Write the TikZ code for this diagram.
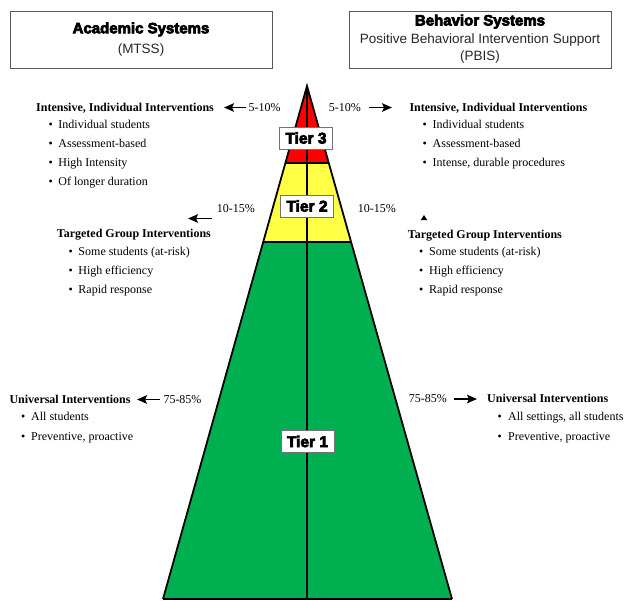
\documentclass[tikz,border=0pt]{standalone}
\usepackage{fontspec}
\setmainfont{Liberation Serif}
\newfontfamily\hsans{Liberation Sans}
\newfontfamily\heavy{Liberation Sans Bold}
\newcommand\hvytext[1]{\special{pdf:literal direct q 2 Tr 0.7 w 0 G}#1\special{pdf:literal direct Q}}
\usetikzlibrary{arrows.meta,calc}
\definecolor{tred}{RGB}{255,0,0}
\definecolor{tyellow}{RGB}{255,255,70}
\definecolor{tgreen}{RGB}{0,176,80}
\begin{document}
\begin{tikzpicture}[x=1pt,y=-1pt,
  txt/.style={inner sep=0pt, anchor=base west, font=\fontsize{12}{14}\selectfont},
  ttl/.style={inner sep=0pt, anchor=base west, font=\fontsize{12}{14}\selectfont\bfseries},
  arr/.style={line width=1.8pt, -{Stealth[length=10pt,width=8.5pt,inset=2pt]}},
  tierbox/.style={draw=black!55, fill=white, line width=0.7pt, minimum width=53pt, minimum height=22pt, inner sep=0pt, font=\heavy\fontsize{15.5}{15.5}\selectfont},
  sysbox/.style={draw=black!65, line width=0.9pt, minimum width=262pt, minimum height=57pt, inner sep=0pt},
  systitle/.style={inner sep=0pt, anchor=base, font=\heavy\fontsize{15}{15}\selectfont},
  syssub/.style={inner sep=0pt, anchor=base, font=\hsans\fontsize{13.5}{15}\selectfont, text=black!85}
]
\useasboundingbox (0,0) rectangle (624,600);

% header boxes
\node[sysbox] (acad) at (141,39.5) {};
\node[systitle] (acadt) at (141,33.3) {\hvytext{Academic Systems}};
\node[syssub] (acads) at (141,53.5) {(MTSS)};
\node[sysbox] (behav) at (480,39.5) {};
\node[systitle] (behavt) at (480,25.5) {\hvytext{Behavior Systems}};
\node[syssub] (behavs) at (480,43) {Positive Behavioral Intervention Support};
\node[syssub] (behavp) at (480,60) {(PBIS)};

% pyramid
\coordinate (apex) at (307,86);
\coordinate (bl) at (163,599);
\coordinate (br) at (452,599);
\coordinate (bc) at (307,599);
\coordinate (l1) at ($(apex)!0.1502!(bl)$);
\coordinate (r1) at ($(apex)!0.1502!(br)$);
\coordinate (l2) at ($(apex)!0.3043!(bl)$);
\coordinate (r2) at ($(apex)!0.3043!(br)$);
\fill[tred] (apex) -- (l1) -- (r1) -- cycle;
\fill[tyellow] (l1) -- (l2) -- (r2) -- (r1) -- cycle;
\fill[tgreen] (l2) -- (bl) -- (br) -- (r2) -- cycle;
\draw[line width=1.6pt] (l1) -- (r1);
\draw[line width=1.6pt] (l2) -- (r2);
\draw[line width=1.6pt] (apex) -- (bc);
\draw[line width=1.8pt, line join=miter] (bl) -- (apex) -- (br);
\draw[line width=1.4pt] (bl) -- (br);

\node[tierbox] (t3) at (306,138) {\hvytext{Tier 3}};
\node[tierbox] (t2) at (307,206) {\hvytext{Tier 2}};
\node[tierbox] (t1) at (307.5,441.5) {\hvytext{Tier 1}};

% Tier 3 left
\node[ttl] (l3t) at (36,111.7) {Intensive, Individual Interventions};
\node[txt] (l3p) at (248.5,111.7) {5-10\%};
\coordinate (l3as) at (246,107.5);
\coordinate (l3ae) at (224,107.5);
\draw[arr] (l3as) -- (l3ae);
\foreach \t [count=\i] in {Individual students, Assessment-based, High Intensity, Of longer duration}
  \node[txt] (l3b\i) at (48.5,{128.5+19*(\i-1)}) {\makebox[9.8pt][l]{\textbullet}\t};

% Tier 3 right
\node[txt] (r3p) at (328.7,111.7) {5-10\%};
\coordinate (r3as) at (369,107.5);
\coordinate (r3ae) at (392,107.5);
\draw[arr] (r3as) -- (r3ae);
\node[ttl] (r3t) at (409.3,111.7) {Intensive, Individual Interventions};
\foreach \t [count=\i] in {Individual students, Assessment-based, {Intense, durable procedures}}
  \node[txt] (r3b\i) at (422.5,{128.5+19*(\i-1)}) {\makebox[10pt][l]{\textbullet}\t};

% Tier 2 left
\node[txt] (l2p) at (216.7,212.7) {10-15\%};
\coordinate (l2as) at (212,218.5);
\coordinate (l2ae) at (188,218.5);
\draw[arr] (l2as) -- (l2ae);
\node[ttl] (l2t) at (56.7,237.7) {Targeted Group Interventions};
\foreach \t [count=\i] in {Some students (at-risk), High efficiency, Rapid response}
  \node[txt] (l2b\i) at (68.5,{255+19*(\i-1)}) {\makebox[9.8pt][l]{\textbullet}\t};

% Tier 2 right
\node[txt] (r2p) at (357.7,212.7) {10-15\%};
\fill (420.8,220) -- (427.2,220) -- (424,215) -- cycle;
\node[ttl] (r2t) at (407.7,238.3) {Targeted Group Interventions};
\foreach \t [count=\i] in {Some students (at-risk), High efficiency, Rapid response}
  \node[txt] (r2b\i) at (419,{255.7+19*(\i-1)}) {\makebox[10pt][l]{\textbullet}\t};

% Tier 1 left
\node[ttl] (l1t) at (9.3,403.3) {Universal Interventions};
\coordinate (l1as) at (160,399.5);
\coordinate (l1ae) at (137,399.5);
\draw[arr] (l1as) -- (l1ae);
\node[txt] (l1p) at (163.3,403.3) {75-85\%};
\foreach \t [count=\i] in {All students, {Preventive, proactive}}
  \node[txt] (l1b\i) at (21,{420.5+19.5*(\i-1)}) {\makebox[10pt][l]{\textbullet}\t};

% Tier 1 right
\node[txt] (r1p) at (408.7,402.7) {75-85\%};
\coordinate (r1as) at (454,399);
\coordinate (r1ae) at (477,399);
\draw[arr] (r1as) -- (r1ae);
\node[ttl] (r1t) at (487,402.7) {Universal Interventions};
\foreach \t [count=\i] in {{All settings, all students}, {Preventive, proactive}}
  \node[txt] (r1b\i) at (497.5,{420.5+19.5*(\i-1)}) {\makebox[10.5pt][l]{\textbullet}\t};
\end{tikzpicture}
\end{document}
